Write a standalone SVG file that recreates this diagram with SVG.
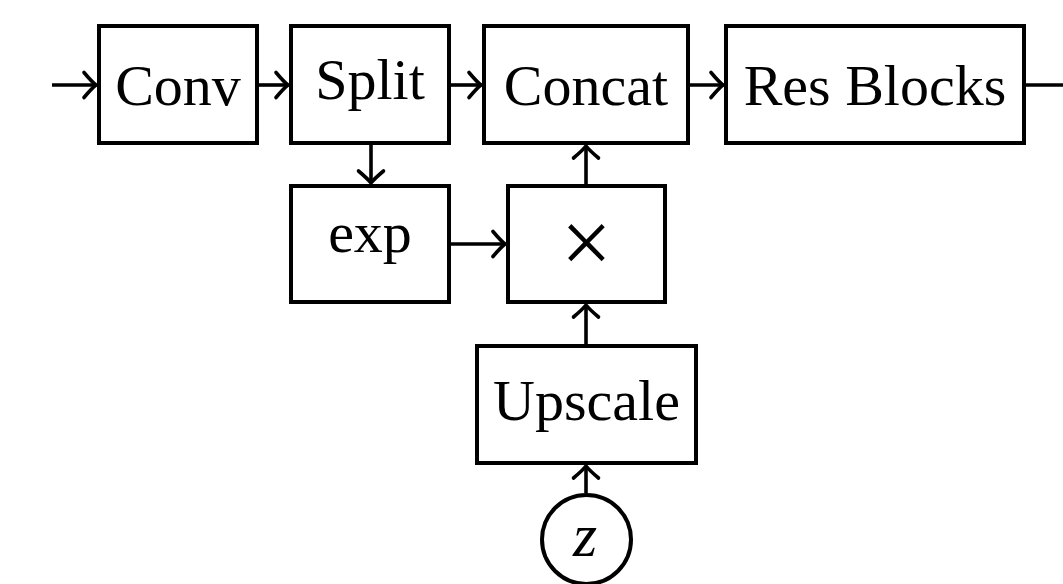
<svg xmlns="http://www.w3.org/2000/svg" width="1063" height="584" viewBox="0 0 1063 584">
  <style>
    .box { fill: #ffffff; stroke: #000000; stroke-width: 4; }
    .lbl { font-family: "Liberation Serif", "Times New Roman", serif; font-size: 58px; fill: #000000; text-anchor: middle; }
    .edge { fill: none; stroke: #000000; stroke-width: 3.6; }
  </style>
  <defs>
    <marker id="tip" markerUnits="userSpaceOnUse" markerWidth="30" markerHeight="30" viewBox="-15 -15 30 30" refX="0" refY="0" orient="auto" overflow="visible">
      <path d="M -12 -12.5 Q -4 -3 0 0 Q -4 3 -12 12.5" fill="none" stroke="#000000" stroke-width="3.6" stroke-linecap="round"/>
    </marker>
  </defs>

  <!-- connectors -->
  <g id="connectors">
    <path class="edge" d="M52 85 H96" marker-end="url(#tip)"/>
    <path class="edge" d="M259 85 H288" marker-end="url(#tip)"/>
    <path class="edge" d="M451 85 H481" marker-end="url(#tip)"/>
    <path class="edge" d="M690 85 H723" marker-end="url(#tip)"/>
    <path class="edge" d="M1026 85 H1063"/>
    <path class="edge" d="M371 145 V183" marker-end="url(#tip)"/>
    <path class="edge" d="M451 244 H505" marker-end="url(#tip)"/>
    <path class="edge" d="M586 184 V146" marker-end="url(#tip)"/>
    <path class="edge" d="M586 344 V305" marker-end="url(#tip)"/>
    <path class="edge" d="M586 493 V466" marker-end="url(#tip)"/>
  </g>

  <g id="conv">
    <rect class="box" x="99" y="26" width="158" height="117"/>
    <text class="lbl" x="178" y="105">Conv</text>
  </g>
  <g id="split">
    <rect class="box" x="291" y="26" width="158" height="117"/>
    <text class="lbl" x="370" y="99">Split</text>
  </g>
  <g id="concat">
    <rect class="box" x="484" y="26" width="204" height="117"/>
    <text class="lbl" x="586" y="105">Concat</text>
  </g>
  <g id="resblocks">
    <rect class="box" x="726" y="26" width="298" height="117"/>
    <text class="lbl" x="875" y="105">Res Blocks</text>
  </g>
  <g id="exp">
    <rect class="box" x="291" y="186" width="158" height="116"/>
    <text class="lbl" x="370" y="252">exp</text>
  </g>
  <g id="multiply">
    <rect class="box" x="508" y="186" width="157" height="116"/>
    <text class="lbl" x="586.5" y="273" style="font-size:90px">×</text>
  </g>
  <g id="upscale">
    <rect class="box" x="477" y="346" width="219" height="117"/>
    <text class="lbl" x="586.5" y="420">Upscale</text>
  </g>
  <g id="z">
    <circle class="box" cx="586.5" cy="539.5" r="44.5"/>
    <text class="lbl" x="585" y="556" font-style="italic" style="font-size:62px">z</text>
  </g>
</svg>
